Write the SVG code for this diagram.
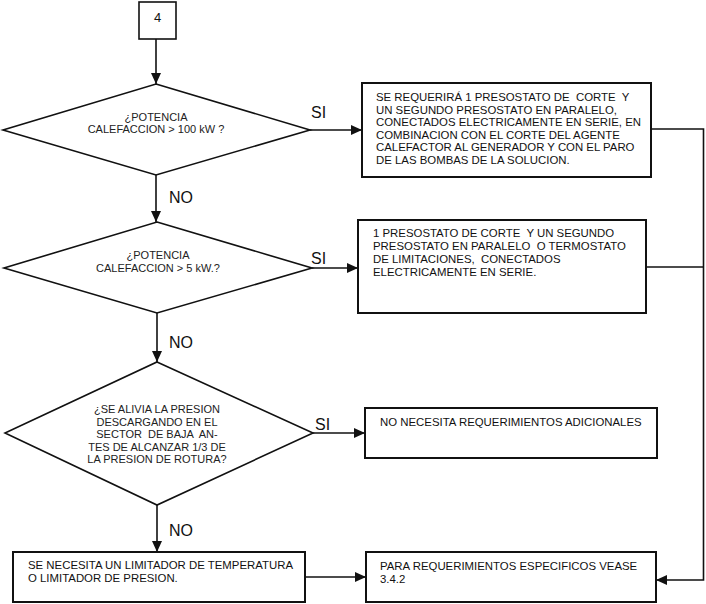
<svg xmlns="http://www.w3.org/2000/svg" width="706" height="604" viewBox="0 0 706 604">
<style>
.bg{fill:#fff}
.box{fill:#fff;stroke:#111;stroke-width:2}
.dia{fill:#fff;stroke:#111;stroke-width:1.6}
.con{fill:none;stroke:#111;stroke-width:1.6}
.t{font-family:"Liberation Sans",Arial,sans-serif;font-size:11.4px;fill:#111;white-space:pre}
.d{font-family:"Liberation Sans",Arial,sans-serif;font-size:11px;fill:#222;text-anchor:middle;white-space:pre}
.lbl{font-family:"Liberation Sans",Arial,sans-serif;font-size:16px;fill:#111}
</style>
<defs>
<marker id="ah" markerUnits="userSpaceOnUse" markerWidth="12" markerHeight="10" refX="11" refY="5" orient="auto">
<path d="M0,0 L11,5 L0,10 Z" fill="#111"/>
</marker>
</defs>
<rect class="bg" x="0" y="0" width="706" height="604"/>
<g id="connectors">
<line class="con" x1="156" y1="39" x2="156" y2="84" marker-end="url(#ah)"/>
<line class="con" x1="310" y1="130" x2="362" y2="130" marker-end="url(#ah)"/>
<line class="con" x1="156" y1="175" x2="156" y2="222" marker-end="url(#ah)"/>
<line class="con" x1="312" y1="268" x2="358" y2="268" marker-end="url(#ah)"/>
<line class="con" x1="157" y1="313" x2="157" y2="362" marker-end="url(#ah)"/>
<line class="con" x1="313" y1="433" x2="365" y2="433" marker-end="url(#ah)"/>
<line class="con" x1="157" y1="505" x2="157" y2="552" marker-end="url(#ah)"/>
<line class="con" x1="305" y1="577" x2="366" y2="577" marker-end="url(#ah)"/>
<polyline class="con" points="651,129 703.5,129 703.5,580 656,580" marker-end="url(#ah)"/>
<line class="con" x1="646" y1="267" x2="703.5" y2="267"/>
<text class="lbl" x="311" y="118">SI</text>
<text class="lbl" x="311" y="264">SI</text>
<text class="lbl" x="315" y="430">SI</text>
<text class="lbl" x="169" y="203">NO</text>
<text class="lbl" x="169" y="348">NO</text>
<text class="lbl" x="169" y="536">NO</text>
</g>
<g id="start">
<rect class="box" x="139" y="2" width="37" height="37" style="stroke-width:1.6"/>
<text class="lbl" x="157.5" y="22" text-anchor="middle" style="font-size:13px">4</text>
</g>
<g id="decision1">
<polygon class="dia" points="156,84 310,130 156,175 3,130"/>
<text class="d" x="156" y="121">¿POTENCIA</text>
<text class="d" x="156" y="133">CALEFACCION &gt; 100 kW ?</text>
</g>
<g id="box1">
<rect class="box" x="362" y="83" width="289" height="94"/>
<text class="t" x="376" y="101">SE REQUERIRÁ 1 PRESOSTATO DE  CORTE  Y</text>
<text class="t" x="376" y="113.6">UN SEGUNDO PRESOSTATO EN PARALELO,</text>
<text class="t" x="376" y="126.2">CONECTADOS ELECTRICAMENTE EN SERIE, EN</text>
<text class="t" x="376" y="138.8">COMBINACION CON EL CORTE DEL AGENTE</text>
<text class="t" x="376" y="151.4">CALEFACTOR AL GENERADOR Y CON EL PARO</text>
<text class="t" x="376" y="164">DE LAS BOMBAS DE LA SOLUCION.</text>
</g>
<g id="decision2">
<polygon class="dia" points="157,222 312,268 157,313 4,268"/>
<text class="d" x="158" y="259">¿POTENCIA</text>
<text class="d" x="158" y="272">CALEFACCION &gt; 5 kW.?</text>
</g>
<g id="box2">
<rect class="box" x="358" y="220" width="288" height="93"/>
<text class="t" x="373" y="237">1 PRESOSTATO DE CORTE  Y UN SEGUNDO</text>
<text class="t" x="373" y="250">PRESOSTATO EN PARALELO  O TERMOSTATO</text>
<text class="t" x="373" y="263">DE LIMITACIONES,  CONECTADOS</text>
<text class="t" x="373" y="276">ELECTRICAMENTE EN SERIE.</text>
</g>
<g id="decision3">
<polygon class="dia" points="157,362 313,433 157,505 5,433"/>
<text class="d" x="157" y="413">¿SE ALIVIA LA PRESION</text>
<text class="d" x="157" y="425.5">DESCARGANDO EN EL</text>
<text class="d" x="157" y="438">SECTOR  DE BAJA  AN-</text>
<text class="d" x="157" y="450.5">TES DE ALCANZAR 1/3 DE</text>
<text class="d" x="157" y="463">LA PRESION DE ROTURA?</text>
</g>
<g id="box3">
<rect class="box" x="365" y="408" width="292" height="50"/>
<text class="t" x="380" y="426">NO NECESITA REQUERIMIENTOS ADICIONALES</text>
</g>
<g id="box5">
<rect class="box" x="13" y="552" width="292" height="50"/>
<text class="t" x="28" y="569">SE NECESITA UN LIMITADOR DE TEMPERATURA</text>
<text class="t" x="28" y="582">O LIMITADOR DE PRESION.</text>
</g>
<g id="box6">
<rect class="box" x="366" y="552" width="290" height="50"/>
<text class="t" x="380" y="570">PARA REQUERIMIENTOS ESPECIFICOS VEASE</text>
<text class="t" x="380" y="583">3.4.2</text>
</g>
</svg>
